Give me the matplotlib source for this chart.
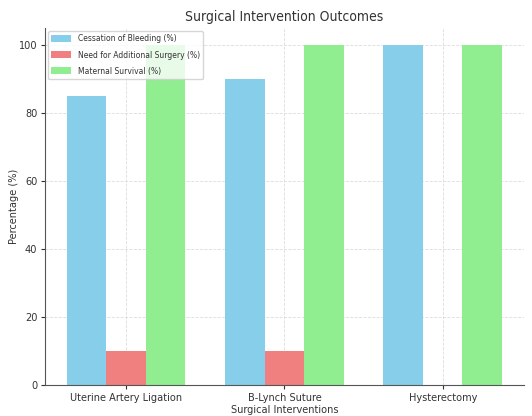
import matplotlib
matplotlib.use("Agg")
import matplotlib.pyplot as plt
import numpy as np

categories = ["Uterine Artery Ligation", "B-Lynch Suture", "Hysterectomy"]
series_names = ["Cessation of Bleeding (%)", "Need for Additional Surgery (%)", "Maternal Survival (%)"]
cessation = [85, 90, 100]
additional_surgery = [10, 10, 0]
survival = [100, 100, 100]
colors = ["skyblue", "lightcoral", "lightgreen"]

plt.rcParams["font.family"] = ["DejaVu Sans"]
plt.rcParams["font.stretch"] = "condensed"
plt.rcParams["text.color"] = "#333333"
plt.rcParams["axes.labelcolor"] = "#333333"
plt.rcParams["xtick.color"] = "#333333"
plt.rcParams["ytick.color"] = "#333333"

fig = plt.figure(figsize=(5.32, 4.16), dpi=100)
ax = fig.add_axes([0.0846, 0.0745, 0.9, 0.858])

x = np.arange(len(categories))
width = 0.25
for i, (vals, name, c) in enumerate(zip([cessation, additional_surgery, survival], series_names, colors)):
    ax.bar(x + (i - 1) * width, vals, width, label=name, color=c)

ax.set_xticks(x)
ax.set_xticklabels(categories)
ax.tick_params(axis="both", labelsize=7.8, length=3, pad=2.5)
ax.set_xlabel("Surgical Interventions", fontsize=7.8, labelpad=2)
ax.set_ylabel("Percentage (%)", fontsize=7.8, labelpad=0)
ax.set_title("Surgical Intervention Outcomes", fontsize=10, pad=5)
ax.grid(True, linestyle="--", color="#dddddd", linewidth=0.6)
ax.set_axisbelow(True)
for s in ["top", "right"]:
    ax.spines[s].set_visible(False)
for s in ["left", "bottom"]:
    ax.spines[s].set_color("#555555")
ax.legend(loc="upper left", fontsize=6.1, framealpha=0.8, borderaxespad=0.35,
          handlelength=2.3, handleheight=0.9, labelspacing=0.85)
fig.savefig("out.png", dpi=100)
